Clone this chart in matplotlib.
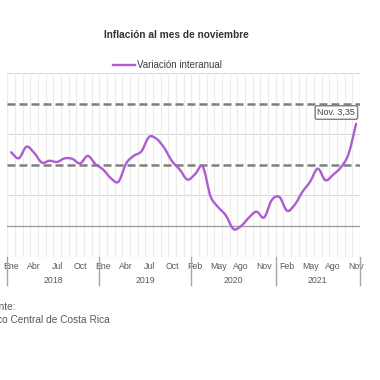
import matplotlib
matplotlib.use("Agg")
import matplotlib.pyplot as plt
from matplotlib.path import Path
from matplotlib.patches import PathPatch
import matplotlib.transforms as mtransforms

plt.rcParams['font.family'] = ['Liberation Sans', 'DejaVu Sans']

# ---- data ----
years = ["2018", "2019", "2020", "2021"]
months_per_year = [
    ["Ene", "Feb", "Mar", "Abr", "May", "Jun", "Jul", "Ago", "Sep", "Oct", "Nov", "Dic"],
    ["Ene", "Feb", "Mar", "Abr", "May", "Jun", "Jul", "Ago", "Sep", "Oct", "Nov", "Dic"],
    ["Feb", "Mar", "Abr", "May", "Jun", "Jul", "Ago", "Sep", "Oct", "Nov", "Dic"],
    ["Ene", "Feb", "Mar", "Abr", "May", "Jun", "Jul", "Ago", "Sep", "Oct", "Nov"],
]
inflacion = [
    2.42, 2.22, 2.60, 2.40, 2.08, 2.14, 2.10, 2.22, 2.20, 2.05, 2.30, 2.03,
    1.85, 1.57, 1.45, 2.05, 2.30, 2.45, 2.92, 2.85, 2.55, 2.12, 1.85, 1.52,
    1.70, 1.95, 0.98, 0.62, 0.35, -0.10, 0.00, 0.27, 0.47, 0.28, 0.85, 0.95,
    0.50, 0.70, 1.12, 1.45, 1.88, 1.50, 1.68, 1.92, 2.35, 3.35,
]
rango_meta = [2, 4]
serie_nombre = "Variación interanual"
titulo = "Inflación al mes de noviembre"
anotacion = "Nov. 3,35"
fuente = ["Fuente:", "Banco Central de Costa Rica"]

# ---- figure ----
fig = plt.figure(figsize=(3.8, 3.8), dpi=100)
ax = fig.add_axes([0.0192, 0.325, 0.928, 0.4816])
n = len(inflacion)
xs = list(range(n))
ax.set_xlim(-0.5, n - 0.5)
ax.set_ylim(-1, 5)

# gridlines
for yv in [-1, 1, 3, 5]:
    ax.axhline(yv, color='#d9d9d9', lw=0.8, zorder=1)
for k in range(n + 1):
    ax.axvline(k - 0.5, color='#ececec', lw=0.8, zorder=1)
ax.axhline(0, color='#a0a0a0', lw=1.0, zorder=2)
for yv in rango_meta:
    ax.axhline(yv, color='#7f7f7f', lw=1.8, ls=(0, (3.2, 1.6)), zorder=3)

# smoothed line (Catmull-Rom rendered as cubic Bezier)
pts = list(zip(xs, inflacion))
verts = [pts[0]]
codes = [Path.MOVETO]
for i in range(n - 1):
    p0 = pts[i - 1] if i > 0 else pts[i]
    p1 = pts[i]
    p2 = pts[i + 1]
    p3 = pts[i + 2] if i + 2 < n else pts[i + 1]
    t = 1 / 6
    c1 = (p1[0] + (p2[0] - p0[0]) * t, p1[1] + (p2[1] - p0[1]) * t)
    c2 = (p2[0] - (p3[0] - p1[0]) * t, p2[1] - (p3[1] - p1[1]) * t)
    verts += [c1, c2, p2]
    codes += [Path.CURVE4] * 3
patch = PathPatch(Path(verts, codes), fill=False, edgecolor='#AD5CD1', lw=1.7,
                  zorder=5, capstyle='round', joinstyle='round')
ax.add_patch(patch)

# annotation
ax.annotate(anotacion, xy=(xs[-1], inflacion[-1]), xytext=(xs[-1] - 0.1, 3.72),
            ha='right', va='center', fontsize=6.5, color='#404040',
            bbox=dict(boxstyle='round,pad=0.25,rounding_size=0.2', fc='white',
                      ec='#7f7f7f', lw=1.0), zorder=6)

for s in ax.spines.values():
    s.set_visible(False)
ax.set_yticks([])

# x tick labels (every 3rd category)
labels = [m for ms in months_per_year for m in ms]
ticks = list(range(0, n, 3))
ax.set_xticks(ticks)
ax.set_xticklabels([labels[i] for i in ticks], fontsize=6.3, color='#595959')
ax.tick_params(axis='x', length=0, pad=4)

# year groups
trans = mtransforms.blended_transform_factory(ax.transData, ax.transAxes)
start = 0
bounds = [-0.5]
for yr, ms in zip(years, months_per_year):
    end = start + len(ms)
    bounds.append(end - 0.5)
    ax.text((start + end - 1) / 2, -0.13, yr, transform=trans, ha='center',
            va='center', fontsize=6.3, color='#595959')
    start = end
for b in bounds:
    ax.plot([b, b], [0, -0.155], transform=trans, color='#a6a6a6', lw=1.0,
            clip_on=False)

# title and legend
fig.text(176 / 380, 1 - 35 / 380, titulo, ha='center', va='center',
         fontsize=7.3, fontweight='bold', color='#333333')
fig.lines.append(plt.Line2D([113 / 380, 135 / 380], [1 - 65 / 380, 1 - 65 / 380],
                            transform=fig.transFigure, color='#AD5CD1', lw=1.7))
fig.text(137 / 380, 1 - 65 / 380, serie_nombre, ha='left', va='center',
         fontsize=7, color='#404040')

# source (cut at the left edge, as in the reference)
fig.text(16 / 380, 1 - 307 / 380, fuente[0], ha='right', va='center',
         fontsize=7.3, color='#595959')
fig.text(110 / 380, 1 - 320 / 380, fuente[1], ha='right', va='center',
         fontsize=7.3, color='#595959')

fig.savefig("out.png", dpi=100)
